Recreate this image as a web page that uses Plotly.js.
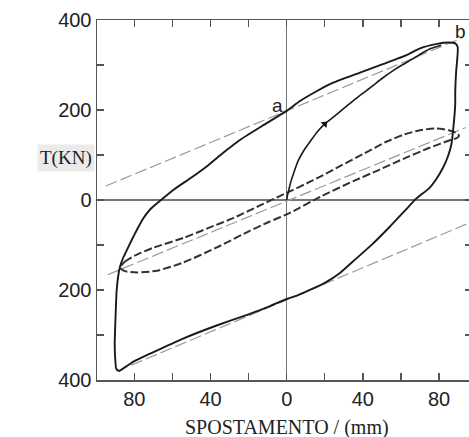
<!DOCTYPE html>
<html>
<head>
<meta charset="utf-8">
<script src="https://cdn.plot.ly/plotly-3.0.1.min.js"></script>
<style>
html,body{margin:0;padding:0;overflow:hidden;background:#fff;}
#chart{width:472px;height:437px;}
</style>
</head>
<body>
<div id="chart"></div>
<script>
// Main hysteresis loop (solid) : displacement (mm) / force (kN)
var mainX = [0, 7, 15, 23, 38.5, 50.5, 63, 70, 79, 85, 88.5, 89.8, 89.5, 89, 88.5, 88.5, 87.5, 86.5, 84.5, 82, 78.5, 75, 68, 62, 54, 45, 36, 28, 20, 11, 5, 0, -10, -20, -37.5, -55, -72, -80, -85, -88, -89.5, -90, -90.3, -90, -89.6, -89.3, -88.5, -87.5, -86, -84, -81.5, -78.5, -75.5, -71.5, -66, -59, -50, -41, -33, -24, -12, 0];
var mainY = [198, 220, 240, 258, 283, 302, 322, 337, 347, 350, 348, 340, 310, 287, 240, 213, 160, 124, 95, 71, 46, 27, 3, -24, -60, -98, -132, -162, -184, -202, -213, -220, -238, -254, -280, -309, -342, -358, -372, -380, -375, -355, -320, -276, -230, -202, -170, -148, -130, -112, -90, -65, -42, -20, 0, 24, 50, 78, 106, 135, 167, 198];

// First loading branch from origin
var loadX = [0, 0.3, 1, 2, 3.5, 6, 9, 12.5, 16, 20, 25, 31.6, 38, 45, 50, 55.7, 61, 66, 71, 76, 81];
var loadY = [0, 8, 20, 38, 58, 87, 110, 131, 151, 169, 186, 209, 231, 253, 270, 287, 301, 313, 326, 337, 344];
var arrowX = [20];
var arrowY = [169];

// Inner (dashed) loop
var innerX = [-87.5, -85, -80, -70, -54, -41, -28.5, -14, 0, 14, 27, 40, 52.6, 62, 70, 78.6, 85, 89, 90.5, 89, 86.5, 75, 61, 48, 35, 18, 2, -10, -19.6, -37, -54.3, -68, -78.6, -85, -87.5];
var innerY = [-150, -137, -124, -106, -84, -62, -41, -12, 16, 44, 73, 102, 130, 146, 155, 159, 155, 149, 143, 137, 134, 116, 91, 66, 42, 8, -28, -50, -69, -106, -139, -157, -161, -158, -150];

// Gray reference (stiffness) lines
var guideUpperX = [-95, 92];
var guideUpperY = [31, 360];
var guideMidX = [-94, 94];
var guideMidY = [-166, 161];
var guideLowX = [-89.5, 97];
var guideLowY = [-381, -49];

// Tick labels
var xTickVals = [-80, -60, -40, -20, 0, 20, 40, 60, 80];
var xTickText = ['80', '', '40', '', '0', '', '40', '', '80'];
var yTickVals = [-400, -300, -200, -100, 0, 100, 200, 300, 400];
var yTickText = ['400', '', '200', '', '0', '', '200', '', '400'];

var guideLine = {color: '#9a9a9a', width: 1.2, dash: '12px,4px'};
var traces = [
  {x: guideUpperX, y: guideUpperY, mode: 'lines', line: guideLine, hoverinfo: 'skip'},
  {x: guideMidX, y: guideMidY, mode: 'lines', line: guideLine, hoverinfo: 'skip'},
  {x: guideLowX, y: guideLowY, mode: 'lines', line: guideLine, hoverinfo: 'skip'},
  {x: innerX, y: innerY, mode: 'lines', line: {color: '#333', width: 2, dash: '8px,3px', shape: 'spline', smoothing: 0.6}},
  {x: mainX, y: mainY, mode: 'lines', line: {color: '#1a1a1a', width: 1.9, shape: 'spline', smoothing: 0.5}},
  {x: loadX, y: loadY, mode: 'lines', line: {color: '#1a1a1a', width: 1.6, shape: 'spline', smoothing: 0.5}},
  {x: arrowX, y: arrowY, mode: 'markers', marker: {symbol: 'triangle-up', size: 7, angle: 45, color: '#111'}}
];

var tickFont = {family: 'Liberation Sans, Arial, sans-serif', size: 20, color: '#222'};
var layout = {
  width: 472, height: 437,
  margin: {l: 97, r: 0, t: 20, b: 57},
  paper_bgcolor: '#fff', plot_bgcolor: '#fff',
  showlegend: false,
  xaxis: {
    range: [-99.6, 97.3], showgrid: false,
    zeroline: true, zerolinecolor: '#777', zerolinewidth: 1.2,
    showline: true, linecolor: '#555', linewidth: 1.5, mirror: 'ticks',
    ticks: 'inside', ticklen: 7, tickwidth: 1.3, tickcolor: '#555',
    tickmode: 'array', tickvals: xTickVals, ticktext: xTickText,
    tickfont: tickFont, ticklabelstandoff: 0
  },
  yaxis: {
    range: [-400, 400], showgrid: false,
    zeroline: true, zerolinecolor: '#777', zerolinewidth: 1.2,
    showline: true, linecolor: '#555', linewidth: 1.5, mirror: 'ticks',
    ticks: 'inside', ticklen: 7, tickwidth: 1.3, tickcolor: '#555',
    tickmode: 'array', tickvals: yTickVals, ticktext: yTickText,
    tickfont: tickFont, ticklabelstandoff: 0
  },
  annotations: [
    {x: -4.6, y: 209, xref: 'x', yref: 'y', text: 'a', showarrow: false,
     font: {family: 'Liberation Sans, Arial, sans-serif', size: 19, color: '#222'}},
    {x: 91.5, y: 375, xref: 'x', yref: 'y', text: 'b', showarrow: false,
     font: {family: 'Liberation Sans, Arial, sans-serif', size: 19, color: '#222'}},
    {x: -0.16, y: 93, xref: 'paper', yref: 'y', text: 'T(KN)', showarrow: false,
     bgcolor: '#ebebeb', borderpad: 2,
     font: {family: 'Liberation Serif, Times New Roman, serif', size: 19, color: '#222'}},
    {x: 0.4, y: -0.1306, xref: 'x', yref: 'paper', text: 'SPOSTAMENTO / (mm)', showarrow: false,
     yanchor: 'middle',
     font: {family: 'Liberation Serif, Times New Roman, serif', size: 20, color: '#222'}}
  ]
};
Plotly.newPlot('chart', traces, layout, {staticPlot: true, displayModeBar: false});
</script>
</body>
</html>
